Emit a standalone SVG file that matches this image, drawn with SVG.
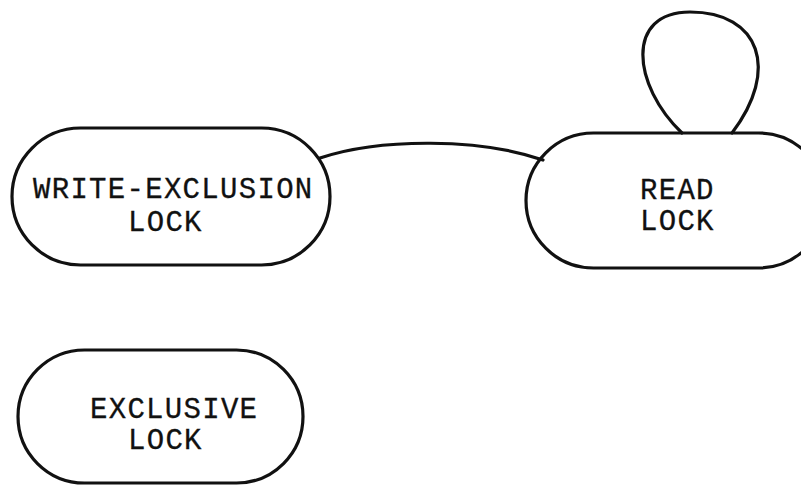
<svg xmlns="http://www.w3.org/2000/svg" width="801" height="485" viewBox="0 0 801 485">
  <style>
    .node { fill: none; stroke: #111; stroke-width: 3.2; }
    .label { font-family: "Liberation Mono", "DejaVu Sans Mono", monospace; font-size: 29px; letter-spacing: 1.3px; fill: #111; stroke: #111; stroke-width: 0.3; }
    .edge { fill: none; stroke: #111; stroke-width: 3.2; stroke-linecap: round; }
  </style>
  <rect width="801" height="485" fill="#fff"/>

  <g id="connectors">
    <path class="edge" d="M320,158 C380,138 480,138 543,160"/>
    <path class="edge" d="M682,133 C632,85 625,12 690,12 C760,12 780,70 732,133"/>
  </g>

  <g id="write-exclusion-lock">
    <rect class="node" x="12" y="128" width="318" height="137" rx="68.5" ry="68.5"/>
    <text class="label" x="33" y="198">WRITE-EXCLUSION</text>
    <text class="label" x="128" y="231">LOCK</text>
  </g>

  <g id="read-lock">
    <rect class="node" x="526" y="133" width="300" height="135" rx="67.5" ry="67.5"/>
    <text class="label" x="640" y="199">READ</text>
    <text class="label" x="640" y="230">LOCK</text>
  </g>

  <g id="exclusive-lock">
    <rect class="node" x="18" y="350" width="285" height="133" rx="66.5" ry="66.5"/>
    <text class="label" x="90" y="418">EXCLUSIVE</text>
    <text class="label" x="128" y="449">LOCK</text>
  </g>
</svg>
